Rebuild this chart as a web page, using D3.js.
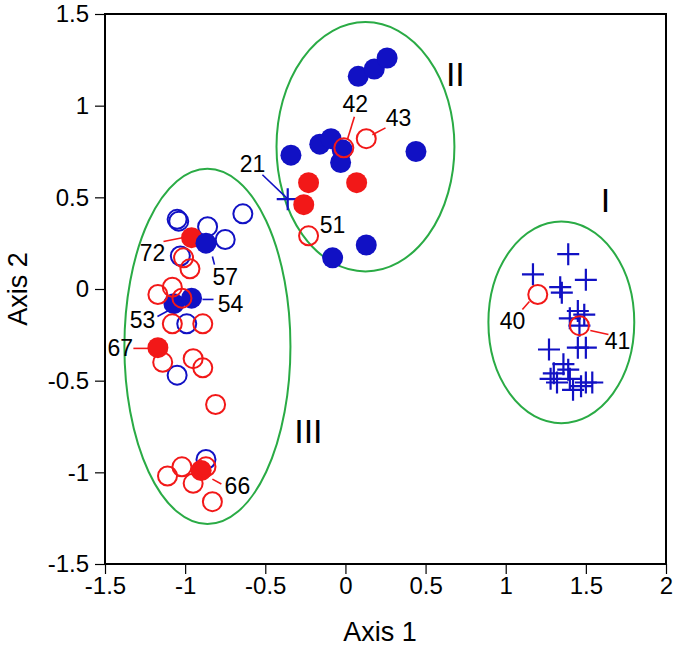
<!DOCTYPE html>
<html><head><meta charset="utf-8">
<script src="https://cdn.jsdelivr.net/npm/d3@7"></script>
<style>body{margin:0;background:#fff}svg{display:block}</style>
</head><body>
<svg id="c" width="675" height="651"></svg>
<script>
const xTicks = [-1.5,-1,-0.5,0,0.5,1,1.5,2];
const yTicks = [-1.5,-1,-0.5,0,0.5,1,1.5];
const blueFilled = [[0.08,1.16],[0.18,1.20],[0.26,1.26],[-0.34,0.73],[-0.16,0.79],[-0.09,0.82],[-0.02,0.76],[-0.03,0.69],[0.44,0.75],[-0.08,0.17],[0.13,0.24],[-0.87,0.25],[-1.07,-0.08],[-0.96,-0.05]];
const blueOpen = [[-1.05,0.38],[-1.04,0.37],[-0.64,0.41],[-0.86,0.34],[-0.75,0.27],[-1.03,0.18],[-0.99,-0.19],[-1.05,-0.47],[-0.87,-0.93]];
const redFilled = [[-0.23,0.58],[0.07,0.58],[-0.26,0.46],[-0.96,0.28],[-1.17,-0.32],[-0.90,-0.99]];
const redOpen = [[-0.01,0.77],[0.13,0.82],[-0.23,0.29],[1.20,-0.03],[1.46,-0.20],[-1.01,0.17],[-0.97,0.11],[-1.08,0.01],[-1.17,-0.03],[-1.02,-0.05],[-1.08,-0.19],[-0.89,-0.19],[-1.14,-0.40],[-0.95,-0.38],[-0.89,-0.43],[-0.81,-0.63],[-1.11,-1.02],[-1.02,-0.97],[-0.95,-1.06],[-0.87,-0.97],[-0.83,-1.16]];
const bluePlus = [[-0.36,0.49],[1.39,0.19],[1.17,0.08],[1.50,0.05],[1.34,0.01],[1.35,-0.02],[1.45,-0.12],[1.49,-0.14],[1.40,-0.16],[1.46,-0.20],[1.45,-0.32],[1.50,-0.32],[1.27,-0.33],[1.36,-0.41],[1.39,-0.44],[1.30,-0.46],[1.28,-0.49],[1.32,-0.51],[1.40,-0.49],[1.42,-0.55],[1.47,-0.53],[1.50,-0.51],[1.54,-0.51]];
const clusterNames = ["I","II","III"];
const clusterCenters = [[1.347,-0.182],[0.125,0.776],[-0.861,-0.313]];
const clusterRadii = [[0.455,0.55],[0.555,0.68],[0.518,0.969]];
const clusterLabelAt = [[1.622,0.487],[0.686,1.173],[-0.231,-0.776]];
const annLabels = ["42","43","21","51","72","57","54","53","67","66","40","41"];
const annText = [[0.062,1.010],[0.331,0.934],[-0.580,0.683],[-0.081,0.351],[-1.204,0.199],[-0.749,0.068],[-0.717,-0.084],[-1.266,-0.171],[-1.404,-0.324],[-0.674,-1.075],[1.042,-0.177],[1.697,-0.286]];
const annLines = [[[0.056,0.939],[0.012,0.814]],[[0.250,0.879],[0.168,0.841]],[[-0.518,0.623],[-0.362,0.493]],null,[[-1.135,0.259],[-1.017,0.280]],[[-0.830,0.177],[-0.817,0.133]],[[-0.892,-0.057],[-0.823,-0.057]],[[-1.173,-0.150],[-1.092,-0.112]],[[-1.323,-0.324],[-1.229,-0.324]],[[-0.830,-1.037],[-0.774,-1.064]],[[1.104,-0.112],[1.148,-0.068]],[[1.528,-0.226],[1.641,-0.248]]];
const annColor = ["red","red","blue","red","red","blue","blue","blue","red","red","red","red"];

const BLUE="#1111c4", RED="#f21818", GREEN="#2aab45";
const L=105,R=666,T=14,B=564;
const x=d3.scaleLinear().domain([-1.5,2]).range([L,R]);
const y=d3.scaleLinear().domain([-1.5,1.5]).range([B,T]);
const svg=d3.select("#c");
const font="Liberation Sans, Arial, sans-serif";

// ellipses
svg.append("g").selectAll("ellipse").data(clusterNames).join("ellipse")
 .attr("cx",(d,i)=>x(clusterCenters[i][0])).attr("cy",(d,i)=>y(clusterCenters[i][1]))
 .attr("rx",(d,i)=>x(clusterRadii[i][0])-x(0)).attr("ry",(d,i)=>y(0)-y(clusterRadii[i][1]))
 .attr("fill","none").attr("stroke",GREEN).attr("stroke-width",2);
svg.append("g").selectAll("text").data(clusterNames).join("text")
 .attr("x",(d,i)=>x(clusterLabelAt[i][0])).attr("y",(d,i)=>y(clusterLabelAt[i][1]))
 .attr("text-anchor","middle").attr("dominant-baseline","central")
 .attr("font-family",font).attr("font-size",34).text(d=>d);

// leader lines
const lg=svg.append("g");
annLines.forEach((l,i)=>{ if(!l) return;
 lg.append("line").attr("x1",x(l[0][0])).attr("y1",y(l[0][1])).attr("x2",x(l[1][0])).attr("y2",y(l[1][1]))
  .attr("stroke",annColor[i]==="red"?RED:BLUE).attr("stroke-width",1.6);
});

// points
const pg=svg.append("g");
pg.selectAll(".bo").data(blueOpen).join("circle").attr("class","bo")
 .attr("cx",d=>x(d[0])).attr("cy",d=>y(d[1])).attr("r",9.5).attr("fill","none").attr("stroke",BLUE).attr("stroke-width",2);
pg.selectAll(".bp").data(bluePlus).join("path").attr("class","bp")
 .attr("d",d=>{const cx=x(d[0]),cy=y(d[1]),a=11;return `M${cx-a},${cy}H${cx+a}M${cx},${cy-a}V${cy+a}`;})
 .attr("stroke",BLUE).attr("stroke-width",2.2).attr("fill","none");
pg.selectAll(".rf").data(redFilled).join("circle").attr("class","rf")
 .attr("cx",d=>x(d[0])).attr("cy",d=>y(d[1])).attr("r",10.5).attr("fill",RED);
pg.selectAll(".bf").data(blueFilled).join("circle").attr("class","bf")
 .attr("cx",d=>x(d[0])).attr("cy",d=>y(d[1])).attr("r",10.5).attr("fill",BLUE);
pg.selectAll(".ro").data(redOpen).join("circle").attr("class","ro")
 .attr("cx",d=>x(d[0])).attr("cy",d=>y(d[1])).attr("r",9.5).attr("fill","none").attr("stroke",RED).attr("stroke-width",2);

// annotation text
svg.append("g").selectAll("text").data(annLabels).join("text")
 .attr("x",(d,i)=>x(annText[i][0])).attr("y",(d,i)=>y(annText[i][1]))
 .attr("text-anchor","middle").attr("dominant-baseline","central")
 .attr("font-family",font).attr("font-size",23).text(d=>d);

// axes
const xa=svg.append("g").attr("transform",`translate(0,${B})`)
 .call(d3.axisBottom(x).tickValues(xTicks).tickSize(10).tickPadding(3).tickFormat(d=>String(d)));
const ya=svg.append("g").attr("transform",`translate(${L},0)`)
 .call(d3.axisLeft(y).tickValues(yTicks).tickSize(10).tickPadding(6).tickFormat(d=>String(d)));
[xa,ya].forEach(a=>{a.select(".domain").remove();a.selectAll("line").attr("stroke","#000").attr("stroke-width",1.2);
 a.selectAll("text").attr("font-family",font).attr("font-size",24).attr("fill","#000");});
svg.append("rect").attr("x",L).attr("y",T).attr("width",R-L).attr("height",B-T)
 .attr("fill","none").attr("stroke","#000").attr("stroke-width",2);

svg.append("text").attr("x",380).attr("y",632).attr("text-anchor","middle").attr("dominant-baseline","central")
 .attr("font-family",font).attr("font-size",27).text("Axis 1");
svg.append("text").attr("transform",`translate(18,${(T+B)/2}) rotate(-90)`).attr("text-anchor","middle").attr("dominant-baseline","central")
 .attr("font-family",font).attr("font-size",27).text("Axis 2");
</script>
</body></html>
